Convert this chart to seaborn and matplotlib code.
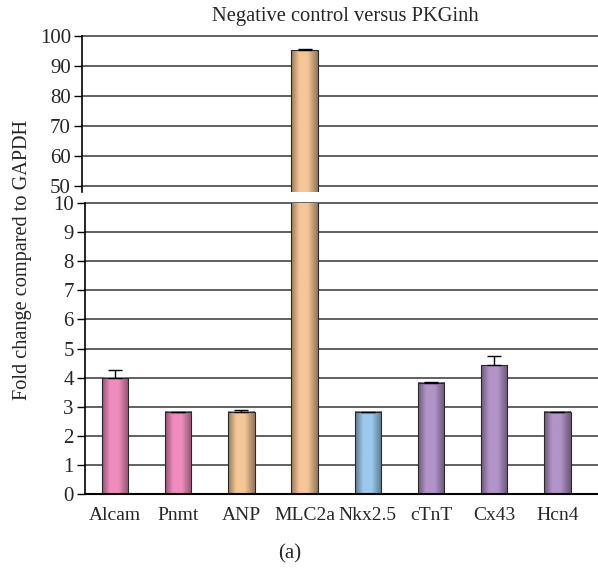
import numpy as np
import pandas as pd
import matplotlib
matplotlib.use("Agg")
import matplotlib.pyplot as plt
from matplotlib.colors import LinearSegmentedColormap, to_rgb
import seaborn as sns

genes = ["Alcam", "Pnmt", "ANP", "MLC2a", "Nkx2.5", "cTnT", "Cx43", "Hcn4"]
fold_change = [4.0, 2.83, 2.83, 95.3, 2.83, 3.82, 4.43, 2.83]
errors = [0.25, 0.0, 0.07, 0.3, 0.0, 0.03, 0.32, 0.0]
bar_colors = ["#F08CBE", "#F08CBE", "#F6C796", "#F6C796", "#9CC9EC",
              "#B394C9", "#B394C9", "#B394C9"]
top_ticks = [50, 60, 70, 80, 90, 100]
bottom_ticks = list(range(0, 11))
title = "Negative control versus PKGinh"
ylabel = "Fold change compared to GAPDH"
caption = "(a)"

df = pd.DataFrame({"gene": genes, "value": fold_change})

sns.set_theme(style="white")
plt.rcParams["font.family"] = ["Liberation Serif", "DejaVu Serif"]

W, H = 598, 569
fig = plt.figure(figsize=(W / 100, H / 100), dpi=100)

def fig_rect(left_px, top_px, right_px, bottom_px):
    return [left_px / W, 1 - bottom_px / H, (right_px - left_px) / W, (bottom_px - top_px) / H]

ax_top = fig.add_axes(fig_rect(82, 36, 598, 192))
ax_bot = fig.add_axes(fig_rect(85, 203, 598, 494))

px_per_cat = 63.2
x0_bot = -0.475
x0_top = x0_bot - 3 / px_per_cat

def shade(ax, ylim):
    for patch, col in zip(ax.patches, bar_colors):
        x, y = patch.get_x(), patch.get_y()
        w, h = patch.get_width(), patch.get_height()
        y_lo = max(y, ylim[0])
        y_hi = min(y + h, ylim[1])
        if y_hi <= y_lo:
            continue
        base = np.array(to_rgb(col))
        dark = base * 0.6
        mid = base * 0.75
        cmap = LinearSegmentedColormap.from_list(
            "g", [(0, dark), (0.3, base), (0.62, base), (0.85, mid), (1, dark)])
        grad = np.linspace(0, 1, 64).reshape(1, -1)
        im = ax.imshow(grad, cmap=cmap, aspect="auto",
                       extent=(x, x + w, y_lo, y_hi),
                       zorder=patch.get_zorder(), interpolation="bicubic")
        patch.set_facecolor("none")
        patch.set_zorder(patch.get_zorder() + 0.1)

for ax, ylim, ticks, x0 in [(ax_top, (48, 100), top_ticks, x0_top),
                            (ax_bot, (0, 10), bottom_ticks, x0_bot)]:
    sns.barplot(data=df, x="gene", y="value", hue="gene", palette=bar_colors,
                order=genes, hue_order=genes, width=0.42, legend=False,
                edgecolor="#2a2a2a", linewidth=0.8, ax=ax, errorbar=None)
    ax.set_axisbelow(True)
    shade(ax, ylim)
    ax.errorbar(np.arange(len(genes)), fold_change,
                yerr=[np.zeros(len(genes)), errors], fmt="none",
                ecolor="black", elinewidth=1, capsize=5, capthick=1, zorder=5)
    ax.set_ylim(*ylim)
    ax.set_xlim(x0, x0 + (ax.get_position().width * W) / px_per_cat)
    ax.set_yticks(ticks)
    ax.set_yticklabels([str(t) for t in ticks], fontsize=15)
    for t in ticks:
        if t != 0:
            ax.axhline(t, color="#555555", lw=1.3, zorder=0.5, clip_on=False)
    ax.tick_params(axis="y", which="major", left=True, length=6, width=1,
                   color="black", direction="out", pad=2)
    ax.set_xlabel("")
    ax.set_ylabel("")
    for s in ["top", "right"]:
        ax.spines[s].set_visible(False)
    ax.spines["left"].set_color("black")
    ax.spines["left"].set_linewidth(1.2)

ax_top.spines["bottom"].set_visible(False)
ax_top.set_xticks([])
ax_bot.spines["bottom"].set_color("black")
ax_bot.spines["bottom"].set_linewidth(1.5)
ax_bot.tick_params(axis="x", bottom=False, labelsize=14, pad=3)
ax_bot.set_xticks(range(len(genes)))
ax_bot.set_xticklabels(genes, fontsize=14)

fig.text(345 / W, 1 - 16 / H, title, ha="center", va="center", fontsize=14.8)
fig.text(23 / W, 1 - 260 / H, ylabel, ha="center", va="center", rotation=90, fontsize=14.6)
fig.text(290 / W, 1 - 554 / H, caption, ha="center", va="center", fontsize=15)

fig.savefig("out.png", dpi=100)
